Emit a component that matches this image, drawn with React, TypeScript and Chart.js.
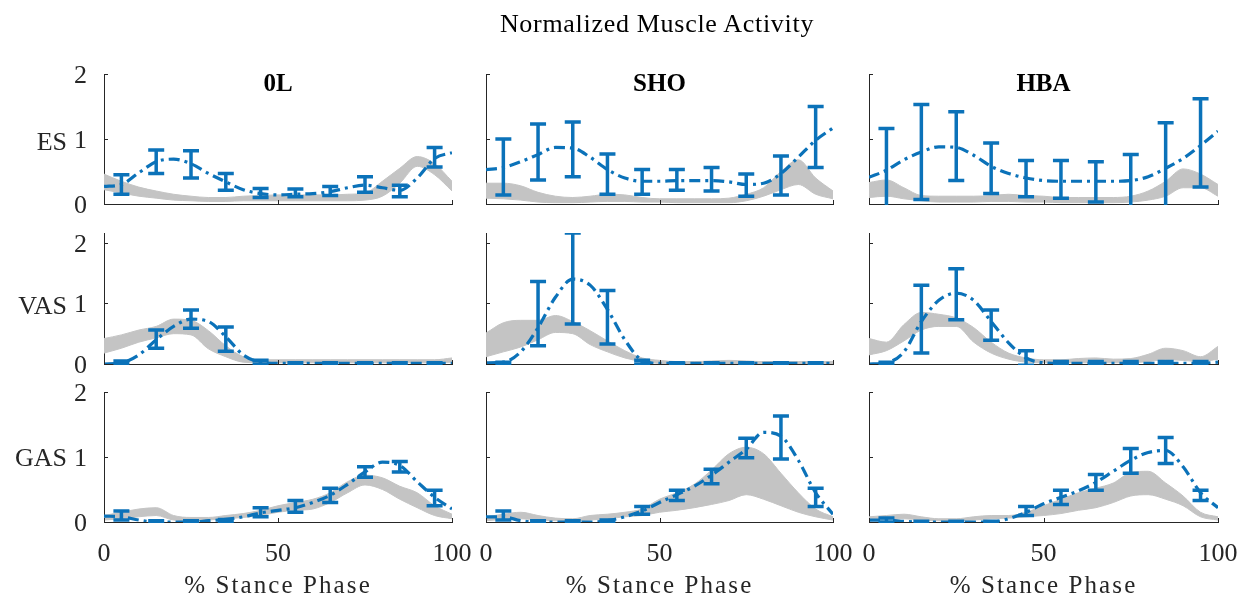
import React, { useEffect, useRef } from 'react';
import { Chart, registerables } from 'chart.js';

Chart.register(...registerables);

// ---------- data ----------
const stancePct = [0, 5, 10, 15, 20, 25, 30, 35, 40, 45, 50, 55, 60, 65, 70, 75, 80, 85, 90, 95, 100];
const barPct = [5, 15, 25, 35, 45, 55, 65, 75, 85, 95];
const xTicks = [0, 50, 100];
const yTicks = [0, 1, 2];
const columnTitles = ['0L', 'SHO', 'HBA'];
const muscleNames = ['ES', 'VAS', 'GAS'];
const rowMax = [2, 2.16, 2];
const chartTitle = 'Normalized Muscle Activity';
const xAxisTitle = '% Stance Phase';

// ES
const es0LCurve = [0.27, 0.30, 0.48, 0.65, 0.69, 0.62, 0.47, 0.34, 0.22, 0.16, 0.14, 0.15, 0.16, 0.19, 0.25, 0.29, 0.25, 0.21, 0.40, 0.70, 0.79];
const es0LMean = [0.30, 0.65, 0.61, 0.34, 0.17, 0.17, 0.20, 0.30, 0.20, 0.72];
const es0LSd = [0.15, 0.18, 0.21, 0.13, 0.07, 0.06, 0.07, 0.12, 0.09, 0.15];
const es0LLow = [0.22, 0.17, 0.12, 0.09, 0.06, 0.05, 0.04, 0.04, 0.05, 0.05, 0.05, 0.05, 0.05, 0.05, 0.05, 0.06, 0.12, 0.32, 0.58, 0.45, 0.20];
const es0LHigh = [0.46, 0.35, 0.26, 0.20, 0.15, 0.12, 0.10, 0.10, 0.12, 0.13, 0.14, 0.14, 0.14, 0.14, 0.15, 0.17, 0.35, 0.55, 0.73, 0.62, 0.35];

const esShoCurve = [0.53, 0.56, 0.65, 0.76, 0.87, 0.86, 0.72, 0.53, 0.40, 0.35, 0.35, 0.36, 0.36, 0.36, 0.34, 0.30, 0.32, 0.47, 0.72, 0.98, 1.17];
const esShoMean = [0.57, 0.80, 0.84, 0.46, 0.34, 0.37, 0.38, 0.29, 0.44, 1.03];
const esShoSd = [0.43, 0.43, 0.42, 0.31, 0.19, 0.16, 0.18, 0.17, 0.30, 0.47];
const esShoLow = [0.09, 0.08, 0.06, 0.03, 0.02, 0.02, 0.03, 0.04, 0.04, 0.03, 0.03, 0.02, 0.02, 0.02, 0.02, 0.05, 0.12, 0.22, 0.30, 0.15, 0.08];
const esShoHigh = [0.32, 0.32, 0.28, 0.18, 0.12, 0.10, 0.12, 0.15, 0.14, 0.10, 0.08, 0.08, 0.08, 0.08, 0.09, 0.15, 0.25, 0.50, 0.68, 0.40, 0.20];

const esHbaCurve = [0.41, 0.52, 0.68, 0.80, 0.88, 0.87, 0.75, 0.58, 0.47, 0.40, 0.36, 0.35, 0.35, 0.35, 0.35, 0.36, 0.42, 0.55, 0.70, 0.90, 1.12];
const esHbaMean = [0.52, 0.80, 0.89, 0.55, 0.39, 0.38, 0.34, 0.35, 0.55, 0.94];
const esHbaSd = [0.64, 0.73, 0.53, 0.39, 0.28, 0.29, 0.31, 0.41, 0.70, 0.68];
const esHbaLow = [0.10, 0.12, 0.08, 0.05, 0.03, 0.03, 0.03, 0.04, 0.04, 0.03, 0.03, 0.02, 0.02, 0.02, 0.02, 0.03, 0.06, 0.12, 0.25, 0.25, 0.12];
const esHbaHigh = [0.33, 0.37, 0.25, 0.13, 0.12, 0.12, 0.12, 0.13, 0.15, 0.13, 0.12, 0.10, 0.10, 0.10, 0.10, 0.12, 0.20, 0.35, 0.54, 0.46, 0.30];

// VAS
const vas0LCurve = [0.00, 0.02, 0.15, 0.40, 0.62, 0.74, 0.70, 0.45, 0.15, 0.03, 0.01, 0.01, 0.01, 0.01, 0.01, 0.01, 0.01, 0.01, 0.01, 0.01, 0.01];
const vas0LMean = [0.02, 0.41, 0.74, 0.41, 0.03, 0.01, 0.01, 0.01, 0.01, 0.01];
const vas0LSd = [0.03, 0.15, 0.15, 0.20, 0.03, 0.01, 0.01, 0.01, 0.01, 0.01];
const vas0LLow = [0.18, 0.26, 0.36, 0.43, 0.50, 0.48, 0.25, 0.12, 0.03, 0.02, 0.02, 0.02, 0.02, 0.02, 0.02, 0.02, 0.02, 0.02, 0.02, 0.02, 0.03];
const vas0LHigh = [0.42, 0.48, 0.56, 0.62, 0.74, 0.72, 0.55, 0.30, 0.12, 0.07, 0.07, 0.07, 0.07, 0.07, 0.07, 0.07, 0.07, 0.07, 0.07, 0.07, 0.10];

const vasShoCurve = [0.02, 0.03, 0.20, 0.60, 1.10, 1.40, 1.30, 0.90, 0.40, 0.06, 0.01, 0.01, 0.01, 0.01, 0.01, 0.01, 0.01, 0.01, 0.01, 0.01, 0.01];
const vasShoMean = [0.01, 0.83, 1.41, 0.77, 0.03, 0.01, 0.01, 0.01, 0.01, 0.01];
const vasShoSd = [0.02, 0.53, 0.75, 0.44, 0.03, 0.01, 0.01, 0.01, 0.01, 0.01];
const vasShoLow = [0.12, 0.20, 0.28, 0.40, 0.52, 0.50, 0.32, 0.20, 0.10, 0.04, 0.01, 0.00, 0.00, 0.00, 0.00, 0.00, 0.00, 0.00, 0.00, 0.00, 0.00];
const vasShoHigh = [0.51, 0.68, 0.72, 0.72, 0.80, 0.70, 0.55, 0.38, 0.22, 0.10, 0.06, 0.04, 0.04, 0.05, 0.06, 0.05, 0.04, 0.04, 0.04, 0.04, 0.04];

const vasHbaCurve = [0.00, 0.02, 0.20, 0.70, 1.05, 1.17, 1.05, 0.70, 0.35, 0.10, 0.02, 0.01, 0.01, 0.01, 0.01, 0.01, 0.01, 0.01, 0.01, 0.01, 0.03];
const vasHbaMean = [0.01, 0.74, 1.15, 0.64, 0.10, 0.02, 0.02, 0.02, 0.02, 0.02];
const vasHbaSd = [0.02, 0.56, 0.42, 0.25, 0.12, 0.02, 0.02, 0.02, 0.02, 0.02];
const vasHbaLow = [0.15, 0.22, 0.38, 0.56, 0.62, 0.62, 0.36, 0.18, 0.08, 0.03, 0.02, 0.02, 0.02, 0.02, 0.02, 0.02, 0.04, 0.07, 0.06, 0.04, 0.08];
const vasHbaHigh = [0.42, 0.36, 0.65, 0.85, 0.82, 0.76, 0.60, 0.36, 0.18, 0.10, 0.07, 0.07, 0.09, 0.10, 0.08, 0.09, 0.16, 0.26, 0.22, 0.12, 0.29];

// GAS
const gas0LCurve = [0.09, 0.08, 0.03, 0.00, 0.00, 0.00, 0.02, 0.04, 0.08, 0.14, 0.18, 0.22, 0.30, 0.41, 0.58, 0.77, 0.92, 0.87, 0.62, 0.38, 0.20];
const gas0LMean = [0.10, 0.00, 0.00, 0.02, 0.15, 0.24, 0.41, 0.77, 0.85, 0.37];
const gas0LSd = [0.07, 0.02, 0.02, 0.02, 0.07, 0.09, 0.11, 0.08, 0.08, 0.12];
const gas0LLow = [0.03, 0.05, 0.08, 0.10, 0.03, 0.02, 0.03, 0.05, 0.07, 0.10, 0.15, 0.18, 0.20, 0.30, 0.45, 0.57, 0.50, 0.35, 0.22, 0.10, 0.05];
const gas0LHigh = [0.10, 0.15, 0.20, 0.22, 0.10, 0.07, 0.07, 0.10, 0.13, 0.18, 0.25, 0.30, 0.35, 0.45, 0.62, 0.72, 0.68, 0.55, 0.45, 0.25, 0.12];

const gasShoCurve = [0.08, 0.08, 0.02, 0.00, 0.00, 0.00, 0.00, 0.02, 0.08, 0.17, 0.30, 0.42, 0.55, 0.72, 0.92, 1.12, 1.38, 1.32, 0.95, 0.45, 0.12];
const gasShoMean = [0.10, 0.00, 0.00, 0.01, 0.18, 0.41, 0.70, 1.14, 1.30, 0.38];
const gasShoSd = [0.07, 0.02, 0.02, 0.02, 0.06, 0.08, 0.11, 0.15, 0.33, 0.14];
const gasShoLow = [0.02, 0.04, 0.05, 0.03, 0.02, 0.02, 0.03, 0.05, 0.08, 0.10, 0.15, 0.18, 0.22, 0.27, 0.33, 0.42, 0.35, 0.25, 0.15, 0.08, 0.03];
const gasShoHigh = [0.08, 0.12, 0.15, 0.10, 0.06, 0.05, 0.10, 0.12, 0.15, 0.20, 0.35, 0.45, 0.58, 0.80, 1.05, 1.15, 1.05, 0.75, 0.45, 0.20, 0.08];

const gasHbaCurve = [0.03, 0.03, 0.01, 0.00, 0.00, 0.00, 0.00, 0.00, 0.05, 0.15, 0.28, 0.38, 0.48, 0.61, 0.78, 0.95, 1.07, 1.10, 0.85, 0.45, 0.22];
const gasHbaMean = [0.03, 0.00, 0.00, 0.00, 0.17, 0.38, 0.61, 0.94, 1.10, 0.41];
const gasHbaSd = [0.03, 0.01, 0.01, 0.01, 0.07, 0.11, 0.12, 0.19, 0.20, 0.08];
const gasHbaLow = [0.02, 0.04, 0.05, 0.03, 0.02, 0.02, 0.03, 0.05, 0.06, 0.08, 0.10, 0.13, 0.18, 0.22, 0.30, 0.40, 0.42, 0.35, 0.25, 0.08, 0.03];
const gasHbaHigh = [0.08, 0.10, 0.12, 0.08, 0.05, 0.05, 0.08, 0.10, 0.10, 0.15, 0.25, 0.35, 0.45, 0.52, 0.60, 0.76, 0.78, 0.60, 0.40, 0.15, 0.08];

type Panel = { curve: number[]; mean: number[]; sd: number[]; low: number[]; high: number[] };

const panels: Panel[][] = [
  [
    { curve: es0LCurve, mean: es0LMean, sd: es0LSd, low: es0LLow, high: es0LHigh },
    { curve: esShoCurve, mean: esShoMean, sd: esShoSd, low: esShoLow, high: esShoHigh },
    { curve: esHbaCurve, mean: esHbaMean, sd: esHbaSd, low: esHbaLow, high: esHbaHigh },
  ],
  [
    { curve: vas0LCurve, mean: vas0LMean, sd: vas0LSd, low: vas0LLow, high: vas0LHigh },
    { curve: vasShoCurve, mean: vasShoMean, sd: vasShoSd, low: vasShoLow, high: vasShoHigh },
    { curve: vasHbaCurve, mean: vasHbaMean, sd: vasHbaSd, low: vasHbaLow, high: vasHbaHigh },
  ],
  [
    { curve: gas0LCurve, mean: gas0LMean, sd: gas0LSd, low: gas0LLow, high: gas0LHigh },
    { curve: gasShoCurve, mean: gasShoMean, sd: gasShoSd, low: gasShoLow, high: gasShoHigh },
    { curve: gasHbaCurve, mean: gasHbaMean, sd: gasHbaSd, low: gasHbaLow, high: gasHbaHigh },
  ],
];

// ---------- layout & style ----------
const W = 1244;
const H = 599;
const colLeft = [104, 486, 869];
const colRight = [452, 833, 1218];
const rowTop = [74, 233, 392];
const rowBottom = [204, 364, 522];
const Y_AXIS_W = 60;
const X_AXIS_H = 40;
const FONT = "'Liberation Serif', 'Times New Roman', Times, serif";
const AXIS_COLOR = '#262626';
const BLUE = '#0b72b9';
const GRAY = '#c4c4c4';

function makePlugins(p: Panel) {
  const errorBars = {
    id: 'errorBars',
    afterDatasetsDraw(chart: any) {
      const { ctx, chartArea, scales } = chart;
      const xs = scales.x;
      const ys = scales.y;
      ctx.save();
      ctx.beginPath();
      ctx.rect(chartArea.left - 10, chartArea.top, chartArea.right - chartArea.left + 20, chartArea.bottom - chartArea.top + 1);
      ctx.clip();
      ctx.strokeStyle = BLUE;
      ctx.lineWidth = 3.5;
      ctx.lineCap = 'butt';
      const cap = 8;
      barPct.forEach((xv, i) => {
        const px = xs.getPixelForValue(xv);
        const top = ys.getPixelForValue(p.mean[i] + p.sd[i]);
        const bot = ys.getPixelForValue(p.mean[i] - p.sd[i]);
        ctx.beginPath();
        ctx.moveTo(px, top);
        ctx.lineTo(px, bot);
        ctx.moveTo(px - cap, top);
        ctx.lineTo(px + cap, top);
        ctx.moveTo(px - cap, bot);
        ctx.lineTo(px + cap, bot);
        ctx.stroke();
      });
      ctx.restore();
    },
  };
  const inwardTicks = {
    id: 'inwardTicks',
    afterDraw(chart: any) {
      const { ctx, chartArea, scales } = chart;
      ctx.save();
      ctx.strokeStyle = AXIS_COLOR;
      ctx.lineWidth = 1;
      ctx.beginPath();
      scales.x.ticks.forEach((t: any) => {
        const px = Math.round(scales.x.getPixelForValue(t.value)) + 0.5;
        ctx.moveTo(px, chartArea.bottom);
        ctx.lineTo(px, chartArea.bottom - 4);
      });
      scales.y.ticks.forEach((t: any) => {
        const py = Math.round(scales.y.getPixelForValue(t.value)) + 0.5;
        ctx.moveTo(chartArea.left, py);
        ctx.lineTo(chartArea.left + 4, py);
      });
      ctx.stroke();
      ctx.restore();
    },
  };
  return [errorBars, inwardTicks];
}

function pts(vals: number[]) {
  return stancePct.map((x, i) => ({ x, y: vals[i] }));
}

function buildConfig(r: number, c: number): any {
  const p = panels[r][c];
  const tickFont = { family: FONT, size: 26 };
  return {
    type: 'line',
    data: {
      datasets: [
        {
          data: pts(p.curve),
          borderColor: BLUE,
          borderWidth: 3.2,
          borderDash: [11, 5, 3, 5],
          pointRadius: 0,
          fill: false,
          cubicInterpolationMode: 'monotone',
          clip: 0,
          order: 0,
        },
        {
          data: pts(p.low),
          borderColor: GRAY,
          borderWidth: 1,
          pointRadius: 0,
          fill: false,
          cubicInterpolationMode: 'monotone',
          clip: 0,
          order: 1,
        },
        {
          data: pts(p.high),
          borderColor: GRAY,
          borderWidth: 1,
          backgroundColor: GRAY,
          pointRadius: 0,
          fill: '-1',
          cubicInterpolationMode: 'monotone',
          clip: 0,
          order: 2,
        },
      ],
    },
    options: {
      responsive: false,
      animation: false,
      devicePixelRatio: 1,
      events: [],
      layout: {
        padding: {
          left: colLeft[c] - Y_AXIS_W,
          top: rowTop[r],
          right: W - colRight[c],
          bottom: H - rowBottom[r] - X_AXIS_H,
        },
      },
      plugins: {
        legend: { display: false },
        tooltip: { enabled: false },
        title: { display: false },
      },
      scales: {
        x: {
          type: 'linear',
          min: 0,
          max: 100,
          afterBuildTicks: (s: any) => {
            s.ticks = xTicks.map((v) => ({ value: v }));
          },
          afterFit: (s: any) => {
            s.height = X_AXIS_H;
            s.paddingLeft = 0;
            s.paddingRight = 0;
            s.paddingTop = 0;
            s.paddingBottom = 0;
          },
          grid: { display: false },
          border: { display: true, color: AXIS_COLOR, width: 1 },
          ticks: {
            display: r === 2,
            padding: 9,
            maxRotation: 0,
            autoSkip: false,
            font: tickFont,
            color: AXIS_COLOR,
          },
        },
        y: {
          type: 'linear',
          min: 0,
          max: rowMax[r],
          afterBuildTicks: (s: any) => {
            s.ticks = yTicks.map((v) => ({ value: v }));
          },
          afterFit: (s: any) => {
            s.width = Y_AXIS_W;
            s.paddingLeft = 0;
            s.paddingRight = 0;
            s.paddingTop = 0;
            s.paddingBottom = 0;
          },
          grid: { display: false },
          border: { display: true, color: AXIS_COLOR, width: 1 },
          ticks: {
            display: c === 0,
            padding: 9,
            labelOffset: 2,
            autoSkip: false,
            font: tickFont,
            color: AXIS_COLOR,
          },
        },
      },
    },
    plugins: makePlugins(p),
  };
}

const textBase: React.CSSProperties = {
  position: 'absolute',
  fontFamily: FONT,
  lineHeight: 1,
  whiteSpace: 'nowrap',
};

export default function App() {
  const refs = useRef<(HTMLCanvasElement | null)[]>([]);

  useEffect(() => {
    const charts: Chart[] = [];
    for (let r = 0; r < 3; r++) {
      for (let c = 0; c < 3; c++) {
        const cv = refs.current[r * 3 + c];
        if (cv) charts.push(new Chart(cv, buildConfig(r, c)));
      }
    }
    return () => charts.forEach((ch) => ch.destroy());
  }, []);

  const rowLabelY = [142, 306, 458];
  const colCenters = colLeft.map((l, i) => (l + colRight[i]) / 2);

  return (
    <div style={{ position: 'absolute', left: 0, top: 0, width: W, height: H, background: '#fff', overflow: 'hidden' }}>
      {Array.from({ length: 9 }).map((_, i) => (
        <canvas
          key={i}
          ref={(el) => {
            refs.current[i] = el;
          }}
          width={W}
          height={H}
          style={{ position: 'absolute', left: 0, top: 0, width: W, height: H }}
        />
      ))}
      <div style={{ ...textBase, left: 657, top: 24, fontSize: 26, color: '#000', transform: 'translate(-50%, -50%)', letterSpacing: '0.7px' }}>
        {chartTitle}
      </div>
      {columnTitles.map((t, c) => (
        <div
          key={t}
          style={{ ...textBase, left: colCenters[c], top: 82, fontSize: 25, fontWeight: 'bold', color: '#000', transform: 'translate(-50%, -50%)' }}
        >
          {t}
        </div>
      ))}
      {muscleNames.map((m, r) => (
        <div
          key={m}
          style={{ ...textBase, left: 67, top: rowLabelY[r], fontSize: 26, color: AXIS_COLOR, transform: 'translate(-100%, -50%)' }}
        >
          {m}
        </div>
      ))}
      {colCenters.map((cx, c) => (
        <div
          key={'xt' + c}
          style={{ ...textBase, left: cx, top: 584, fontSize: 25, color: AXIS_COLOR, transform: 'translate(-50%, -50%)', letterSpacing: '2.1px' }}
        >
          {xAxisTitle}
        </div>
      ))}
    </div>
  );
}
